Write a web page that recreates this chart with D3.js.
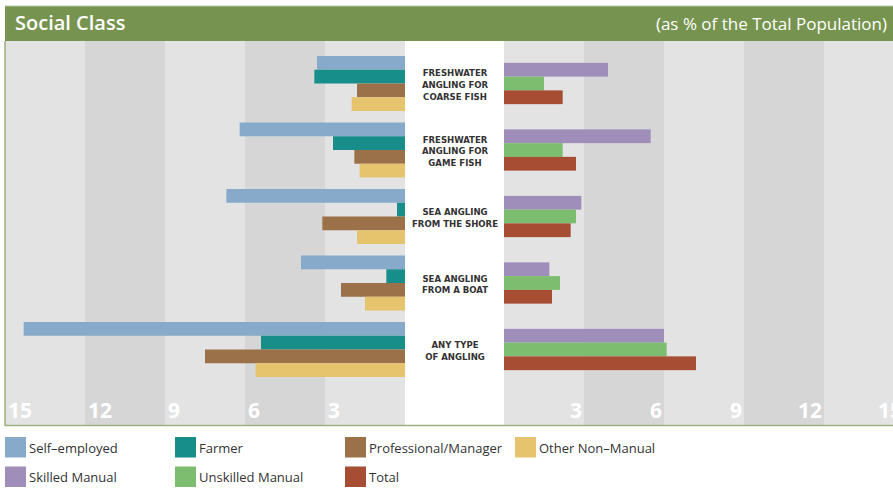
<!DOCTYPE html>
<html>
<head>
<meta charset="utf-8">
<script src="https://cdn.jsdelivr.net/npm/d3@7/dist/d3.min.js"></script>
<style>
  html, body { margin: 0; padding: 0; background: #fff; }
  svg { display: block; }
</style>
</head>
<body>
<svg id="chart" width="893" height="488"></svg>
<script>
// Angling participation by social class (% of total population)
const categories = [
  "Coarse fish", "Game fish", "Sea shore", "Sea boat", "Any angling"
];
const categoryLabels = [
  ["FRESHWATER", "ANGLING FOR", "COARSE FISH"],
  ["FRESHWATER", "ANGLING FOR", "GAME FISH"],
  ["SEA ANGLING", "FROM THE SHORE"],
  ["SEA ANGLING", "FROM A BOAT"],
  ["ANY TYPE", "OF ANGLING"]
];

// Non-manual classes (drawn to the left)
const selfEmployed  = [3.3, 6.2, 6.7, 3.9, 14.3];
const farmer        = [3.4, 2.7, 0.3, 0.7, 5.4];
const professional  = [1.8, 1.9, 3.1, 2.4, 7.5];
const otherNonManual= [2.0, 1.7, 1.8, 1.5, 5.6];

// Manual classes and total (drawn to the right)
const skilledManual  = [3.9, 5.5, 2.9, 1.7, 6.0];
const unskilledManual= [1.5, 2.2, 2.7, 2.1, 6.1];
const total          = [2.2, 2.7, 2.5, 1.8, 7.2];

const tickValues = [3, 6, 9, 12, 15];

const leftSeries = [
  { name: "Self\u2013employed", values: selfEmployed, color: "#87aacb" },
  { name: "Farmer", values: farmer, color: "#188e8b" },
  { name: "Professional/Manager", values: professional, color: "#9b714a" },
  { name: "Other Non\u2013Manual", values: otherNonManual, color: "#e6c36d" }
];
const rightSeries = [
  { name: "Skilled Manual", values: skilledManual, color: "#9f8dba" },
  { name: "Unskilled Manual", values: unskilledManual, color: "#7dbd6f" },
  { name: "Total", values: total, color: "#a74d33" }
];

const svg = d3.select("#chart");
const frameLeft = 5, frameTop = 41, frameBottom = 425;
const green = "#76944f";

// Scales: two mirrored percentage axes with a label gap in the middle
const xL = d3.scaleLinear().domain([0, 15]).range([405, 5]);
const xR = d3.scaleLinear().domain([0, 15]).range([504, 904]);
const y = d3.scaleBand().domain(categories).range([56, 377]).paddingInner(0.173).paddingOuter(0);
const yLeft = d3.scaleBand().domain(leftSeries.map(d => d.name)).range([0, y.bandwidth()]);
const barH = yLeft.bandwidth();
const rightOffset = (y.bandwidth() - barH * rightSeries.length) / 2;
const yRight = d3.scaleBand().domain(rightSeries.map(d => d.name))
  .range([rightOffset, rightOffset + barH * rightSeries.length]);

// Alternating background bands
const bands = svg.append("g");
tickValues.forEach((t, i) => {
  const fill = i % 2 === 0 ? "#e3e3e3" : "#d6d6d6";
  bands.append("rect")
    .attr("x", xL(t)).attr("y", frameTop)
    .attr("width", xL(t - 3) - xL(t)).attr("height", frameBottom - frameTop)
    .attr("fill", fill);
  bands.append("rect")
    .attr("x", xR(t - 3)).attr("y", frameTop)
    .attr("width", Math.min(xR(t), 893) - xR(t - 3)).attr("height", frameBottom - frameTop)
    .attr("fill", fill);
});

// Axis numbers inside the bands
const tickFont = "'Open Sans', sans-serif";
svg.append("g").selectAll("text").data(tickValues).join("text")
  .attr("x", d => xL(d) + 3).attr("y", 418)
  .attr("font-family", tickFont).attr("font-weight", 700).attr("font-size", 21)
  .attr("fill", "#fff").text(d => d);
svg.append("g").selectAll("text").data(tickValues).join("text")
  .attr("x", d => xR(d) - 2).attr("y", 418).attr("text-anchor", "end")
  .attr("font-family", tickFont).attr("font-weight", 700).attr("font-size", 21)
  .attr("fill", "#fff").text(d => d);

// Left bars
leftSeries.forEach(s => {
  svg.append("g").selectAll("rect").data(s.values).join("rect")
    .attr("x", d => xL(d)).attr("width", d => xL(0) - xL(d))
    .attr("y", (d, i) => y(categories[i]) + yLeft(s.name))
    .attr("height", barH).attr("fill", s.color);
});
// Right bars
rightSeries.forEach(s => {
  svg.append("g").selectAll("rect").data(s.values).join("rect")
    .attr("x", xR(0)).attr("width", d => xR(d) - xR(0))
    .attr("y", (d, i) => y(categories[i]) + yRight(s.name))
    .attr("height", barH).attr("fill", s.color);
});

// Category labels in the centre gap
const labelG = svg.append("g");
categoryLabels.forEach((lines, i) => {
  const cy = y(categories[i]) + y.bandwidth() / 2 + 1;
  const lh = 11.8;
  const t = labelG.append("text")
    .attr("x", (xL(0) + xR(0)) / 2 + 0.5)
    .attr("text-anchor", "middle")
    .attr("font-family", "'Liberation Sans Narrow', 'DejaVu Sans Condensed', sans-serif")
    .attr("font-weight", 700).attr("font-size", 9.5)
    .attr("fill", "#333");
  lines.forEach((ln, j) => {
    t.append("tspan").attr("x", (xL(0) + xR(0)) / 2 + 0.5)
      .attr("y", cy + (j - (lines.length - 1) / 2) * lh + 3.4)
      .text(ln);
  });
});

// Frame lines
svg.append("line").attr("x1", frameLeft).attr("x2", frameLeft)
  .attr("y1", frameTop).attr("y2", frameBottom + 1)
  .attr("stroke", "#9bb27d").attr("stroke-width", 1.5);
svg.append("line").attr("x1", frameLeft).attr("x2", 893)
  .attr("y1", frameBottom + 0.5).attr("y2", frameBottom + 0.5)
  .attr("stroke", "#9bb27d").attr("stroke-width", 1.5);

// Title bar
svg.append("rect").attr("x", frameLeft).attr("y", 6).attr("width", 893 - frameLeft).attr("height", 35)
  .attr("fill", green);
svg.append("line").attr("x1", frameLeft).attr("x2", 893).attr("y1", 6).attr("y2", 6)
  .attr("stroke", "#b9c8a6").attr("stroke-width", 1);
svg.append("text").attr("x", 15).attr("y", 30)
  .attr("font-family", "'Open Sans', sans-serif").attr("font-weight", 600).attr("font-size", 20)
  .attr("fill", "#fff").text("Social Class");
svg.append("text").attr("x", 887).attr("y", 30).attr("text-anchor", "end")
  .attr("font-family", "'Open Sans', sans-serif").attr("font-size", 17)
  .attr("fill", "#fff").text("(as % of the Total Population)");

// Legend
const legendItems = leftSeries.concat(rightSeries);
const legendX = [5, 175, 345, 515];
const legend = svg.append("g");
legendItems.forEach((s, i) => {
  const col = i < 4 ? i : i - 4;
  const row = i < 4 ? 0 : 1;
  const gx = legendX[col], gy = 437 + row * 29.5;
  legend.append("rect").attr("x", gx).attr("y", gy).attr("width", 21).attr("height", 20.5).attr("fill", s.color);
  legend.append("text").attr("x", gx + 24).attr("y", gy + 15.5)
    .attr("font-family", "'Open Sans', sans-serif").attr("font-size", 13)
    .attr("fill", "#333").text(s.name);
});
</script>
</body>
</html>
